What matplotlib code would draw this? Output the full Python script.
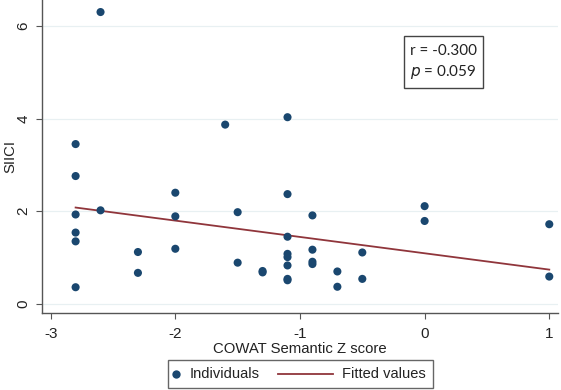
import matplotlib
matplotlib.use("Agg")
import matplotlib.pyplot as plt
from matplotlib.lines import Line2D
from matplotlib.patches import Rectangle

# Data
cowat_z = [-2.6, -2.8, -2.8, -1.6, -2.0, -1.1, -1.1, -2.8, -2.6, -2.8, -2.8, -2.8,
           -2.0, -2.3, -2.3, -2.0, -1.5, -1.5, -1.3, -1.3, -1.1, -1.1, -1.1, -1.1,
           -1.1, -1.1, -0.9, -0.9, -0.9, -0.9, -0.7, -0.7, -0.5, -0.5, 0.0, 0.0,
           1.0, 1.0]
siici = [6.30, 3.45, 2.76, 3.87, 2.40, 4.03, 2.37, 1.93, 2.02, 1.54, 1.35, 0.36,
         1.89, 1.12, 0.67, 1.19, 1.98, 0.89, 0.68, 0.71, 1.45, 1.08, 1.01, 0.83,
         0.54, 0.51, 1.91, 1.17, 0.91, 0.86, 0.70, 0.37, 1.11, 0.54, 2.11, 1.79,
         1.72, 0.59]
fit_x = [-2.8, 1.0]
fit_y = [2.08, 0.74]
x_ticks = [-3, -2, -1, 0, 1]
y_ticks = [0, 2, 4, 6]
legend_labels = ["Individuals", "Fitted values"]
stats_lines = ["r = -0.300", "$\\it{p}$ = 0.059"]

navy = "#1a476f"
maroon = "#90353b"
txt = "#222222"

plt.rcParams['font.family'] = ['Liberation Sans', 'DejaVu Sans']

W, H = 561, 390
fig = plt.figure(figsize=(W/100, H/100), dpi=100)
ax = fig.add_axes([41.7/W, 1 - 312.7/H, (558 - 41.7)/W, 312.7/H])

ax.set_xlim(-3.072, 1.07)
ax.set_ylim(-0.19, 6.56)

for yt in y_ticks:
    ax.axhline(yt, color="#e8f0f2", lw=0.9, zorder=0)

ax.scatter(cowat_z, siici, s=34, color=navy, edgecolors="none", zorder=3)
ax.plot(fit_x, fit_y, color=maroon, lw=1.3, zorder=2)

ax.spines['top'].set_visible(False)
ax.spines['right'].set_visible(False)
for s in ('left', 'bottom'):
    ax.spines[s].set_color("#555555")
    ax.spines[s].set_linewidth(1.0)

ax.set_xticks(x_ticks)
ax.set_xticklabels([str(v) if v >= 0 else "-" + str(-v) for v in x_ticks])
ax.set_yticks(y_ticks)
ax.set_yticklabels([str(v) for v in y_ticks], rotation=90, va='center')
ax.tick_params(axis='both', length=4, width=0.8, color="#555555", labelsize=11,
               labelcolor=txt)
ax.tick_params(axis='x', pad=6)
ax.tick_params(axis='y', pad=4)

ax.set_xlabel("COWAT Semantic Z score", fontsize=10.7, color=txt)
ax.xaxis.set_label_coords(0.5, (312.7 - 349) / 312.7)
ax.xaxis.label.set_va('center')
ax.set_ylabel("SIICI", fontsize=10.7, color=txt)
ax.yaxis.set_label_coords((10 - 41.7) / (558 - 41.7), 0.5)
ax.yaxis.label.set_va('center')

def fx(px):
    return px / W

def fy(py):
    return 1 - py / H

# stats box
fig.add_artist(Rectangle((fx(404), fy(88)), fx(483) - fx(404), fy(36) - fy(88),
                         transform=fig.transFigure, fill=True, fc='white',
                         ec='#444444', lw=1.0, zorder=5))
for i, line in enumerate(stats_lines):
    fig.text(fx(410), fy(51 + 21 * i), line, fontsize=11,
             family=['Lato', 'DejaVu Sans'], va='center', ha='left', color=txt,
             zorder=6)

# legend (manual layout)
fig.add_artist(Rectangle((fx(167.7), fy(388)), fx(432.7) - fx(167.7), fy(360) - fy(388),
                         transform=fig.transFigure, fill=False, ec='#666666', lw=1.0))
ly = fy(374)
fig.add_artist(Line2D([fx(176)], [ly], marker='o', ls='none', color=navy,
                      markersize=6.0, markeredgewidth=0, transform=fig.transFigure))
fig.text(fx(190), ly, legend_labels[0], fontsize=10.5, va='center', ha='left', color=txt)
fig.add_artist(Line2D([fx(278), fx(333)], [ly, ly], color=maroon, lw=1.3,
                      transform=fig.transFigure))
fig.text(fx(342), ly, legend_labels[1], fontsize=10.5, va='center', ha='left', color=txt)

fig.savefig("out.png", dpi=100)
